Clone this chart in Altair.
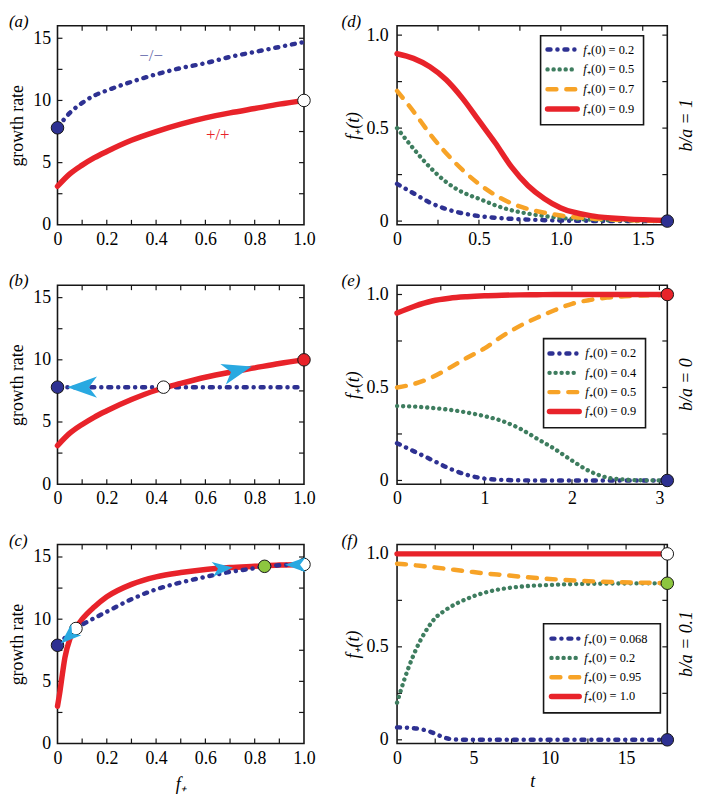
import altair as alt
import pandas as pd

SERIF = "Liberation Serif"
INK = "#161616"
NAVY = "#2e3192"
RED = "#e8232a"
GREEN = "#3e7d5f"
ORANGE = "#f7a327"
CYAN = "#29a9e1"
LIME = "#8dc63f"
WHITE = "#ffffff"
MINUS_INK = "#6a6eae"

# ---------------- left column: growth rate vs f+ ----------------
A_F = [0.0, 0.05, 0.1, 0.15, 0.2, 0.3, 0.4, 0.5, 0.6, 0.7, 0.8, 0.9, 1.0]
A_MINUS = [7.8, 9.0, 9.8, 10.4, 10.8, 11.5, 12.1, 12.6, 13.0, 13.5, 13.9, 14.3, 14.7]
A_PLUS = [3.1, 4.1, 4.8, 5.4, 5.9, 6.8, 7.5, 8.1, 8.6, 9.0, 9.35, 9.7, 10.0]
A_LABEL_F = [0.38, 0.65]
A_LABEL_G = [13.6, 7.2]
A_LABELS = ["\u2212/\u2212", "+/+"]
A_DOT_F = [0.0, 1.0]
A_DOT_G = [7.8, 10.0]

B_F_MINUS = [0.0, 1.0]
B_MINUS = [7.8, 7.8]
B_F = [0.0, 0.05, 0.1, 0.15, 0.2, 0.3, 0.4, 0.5, 0.6, 0.7, 0.8, 0.9, 1.0]
B_PLUS = [3.1, 4.1, 4.8, 5.4, 5.9, 6.8, 7.55, 8.1, 8.6, 9.0, 9.35, 9.7, 10.0]
B_DOT_F = [0.0, 0.43, 1.0]
B_DOT_G = [7.8, 7.8, 10.0]
B_ARROW_F = [0.1, 0.73]
B_ARROW_G = [7.8, 9.15]
B_ARROW_ANGLE = [180, 345]

C_F_PLUS = [0.0, 0.01, 0.02, 0.03, 0.05, 0.075, 0.1, 0.15, 0.2, 0.3, 0.4, 0.5, 0.6, 0.7, 0.8, 0.9, 1.0]
C_PLUS = [3.0, 4.2, 5.6, 6.9, 8.4, 9.3, 10.0, 11.0, 11.8, 12.8, 13.4, 13.75, 14.0, 14.15, 14.25, 14.35, 14.4]
C_F_MINUS = [0.0, 0.075, 0.1, 0.2, 0.3, 0.4, 0.5, 0.6, 0.7, 0.8, 0.84, 0.9, 1.0]
C_MINUS = [7.9, 9.25, 9.55, 10.6, 11.6, 12.4, 12.95, 13.4, 13.8, 14.1, 14.25, 14.33, 14.4]
C_DOT_F = [0.0, 0.075, 0.84, 1.0]
C_DOT_G = [7.9, 9.25, 14.25, 14.4]
C_ARROW_F = [0.045, 0.67, 0.965]
C_ARROW_G = [8.6, 14.08, 14.38]
C_ARROW_ANGLE = [138, 355, 180]

# ---------------- right column: f+(t) vs t ----------------
D_T = [0.0, 0.1, 0.2, 0.3, 0.4, 0.5, 0.6, 0.7, 0.8, 0.9, 1.0, 1.2, 1.4, 1.65]
D_02 = [0.20, 0.15, 0.10, 0.065, 0.042, 0.027, 0.018, 0.012, 0.008, 0.005, 0.003, 0.001, 0.0, 0.0]
D_05 = [0.50, 0.39, 0.29, 0.21, 0.155, 0.12, 0.085, 0.058, 0.04, 0.027, 0.017, 0.007, 0.003, 0.0]
D_07 = [0.70, 0.59, 0.47, 0.365, 0.275, 0.20, 0.14, 0.095, 0.065, 0.045, 0.03, 0.013, 0.005, 0.001]
D_09 = [0.90, 0.875, 0.83, 0.76, 0.66, 0.54, 0.42, 0.29, 0.19, 0.12, 0.07, 0.027, 0.012, 0.003]
D_LABELS = ["0.2", "0.5", "0.7", "0.9"]
D_DOT_T = [1.65]
D_DOT_V = [0.0]

E_T = [0.0, 0.2, 0.4, 0.6, 0.8, 1.0, 1.2, 1.4, 1.6, 1.8, 2.0, 2.2, 2.4, 2.6, 2.8, 3.09]
E_02 = [0.20, 0.155, 0.11, 0.064, 0.03, 0.01, 0.003, 0.001, 0, 0, 0, 0, 0, 0, 0, 0]
E_04 = [0.40, 0.397, 0.39, 0.38, 0.365, 0.346, 0.32, 0.28, 0.225, 0.17, 0.107, 0.05, 0.016, 0.005, 0.001, 0.0]
E_05 = [0.50, 0.52, 0.555, 0.605, 0.66, 0.71, 0.775, 0.83, 0.875, 0.915, 0.95, 0.97, 0.983, 0.99, 0.995, 0.998]
E_09 = [0.90, 0.937, 0.965, 0.98, 0.988, 0.993, 0.996, 0.998, 0.999, 1.0, 1.0, 1.0, 1.0, 1.0, 1.0, 1.0]
E_LABELS = ["0.2", "0.4", "0.5", "0.9"]
E_DOT_T = [3.09, 3.09]
E_DOT_V = [1.0, 0.0]

F_T = [0.0, 0.5, 1.0, 1.5, 2.0, 2.5, 3.0, 3.5, 4.0, 5.0, 6.0, 7.0, 8.0, 10.0, 12.0, 14.0, 17.7]
F_0068 = [0.067, 0.066, 0.063, 0.058, 0.048, 0.033, 0.015, 0.004, 0.001, 0, 0, 0, 0, 0, 0, 0, 0]
F_02 = [0.20, 0.33, 0.44, 0.53, 0.60, 0.655, 0.688, 0.715, 0.737, 0.772, 0.797, 0.813, 0.823, 0.833, 0.838, 0.84, 0.842]
F_095 = [0.947, 0.944, 0.94, 0.936, 0.932, 0.927, 0.922, 0.917, 0.912, 0.902, 0.893, 0.886, 0.878, 0.865, 0.855, 0.849, 0.843]
F_T_RED = [0.0, 17.7]
F_10 = [1.0, 1.0]
F_LABELS = ["0.068", "0.2", "0.95", "1.0"]
F_DOT_T = [17.7, 17.7, 17.7]
F_DOT_V = [1.0, 0.842, 0.0]

# ---------------- axes / ticks ----------------
LX_VALUES = [0, 0.2, 0.4, 0.6, 0.8, 1.0]
LX_TICKS = [0.1, 0.2, 0.3, 0.4, 0.5, 0.6, 0.7, 0.8, 0.9]
LY_VALUES = [0, 5, 10, 15]
LY_TICKS = [2.5, 5, 7.5, 10, 12.5, 15]
RY_VALUES = [0, 0.5, 1.0]
RY_TICKS = [0, 0.25, 0.5, 0.75, 1.0]
D_X_VALUES = [0, 0.5, 1.0, 1.5]
D_X_TICKS = [0.25, 0.5, 0.75, 1.0, 1.25, 1.5]
E_X_VALUES = [0, 1, 2, 3]
E_X_TICKS = [0.5, 1, 1.5, 2, 2.5, 3]
F_X_VALUES = [0, 5, 10, 15]
F_X_TICKS = [2.5, 5, 7.5, 10, 12.5, 15, 17.5]

FMT1 = "datum.value == 0 ? '0' : format(datum.value, '.1f')"
FMT0 = "format(datum.value, 'd')"

ARROW = "M1,0L-1,-0.72L-0.45,0L-1,0.72Z"
S_NAVY = dict(color=NAVY, strokeWidth=4.5, strokeDash=[3, 7, 0.1, 7], strokeCap="round")
S_GREEN = dict(color=GREEN, strokeWidth=4.4, strokeDash=[0.1, 6], strokeCap="round")
S_ORANGE = dict(color=ORANGE, strokeWidth=4.5, strokeDash=[9, 10], strokeCap="round")
S_RED = dict(color=RED, strokeWidth=5.5, strokeCap="round")

ONE = pd.DataFrame({"k": [0]})
WL, WR, H = 249, 273, 201
FS = 18


def xaxis(values, expr, title=None, tp=0):
    kw = dict(values=values, labelExpr=expr, labelPadding=6, labelFlush=False, labelOverlap=False)
    if title:
        kw.update(title=title, titleFontStyle="italic", titlePadding=tp)
    else:
        kw.update(title=None)
    return alt.Axis(**kw)


def yaxis(values, expr, title, italic, lp, tp):
    return alt.Axis(values=values, labelExpr=expr, labelPadding=lp, labelFlush=False,
                    labelOverlap=False, title=title, titlePadding=tp,
                    titleFontStyle="italic" if italic else "normal")


class Panel:
    def __init__(self, W, xdom, ydom, xax, yax):
        self.W, self.H = W, H
        self.sx = alt.Scale(domain=xdom, nice=False, zero=False)
        self.sy = alt.Scale(domain=ydom, nice=False, zero=False)
        self.xax, self.yax = xax, yax
        self.layers = []

    def enc(self):
        return alt.X("x:Q", scale=self.sx, axis=self.xax), alt.Y("y:Q", scale=self.sy, axis=self.yax)

    def ticks(self, xv, yv, L=5):
        X, Y = self.enc()
        dx = pd.DataFrame({"x": xv})
        dy = pd.DataFrame({"y": yv})
        st = dict(color=INK, strokeWidth=1.2)
        self.layers += [
            alt.Chart(dx).mark_rule(**st).encode(x=X, y=alt.value(self.H), y2=alt.value(self.H - L)),
            alt.Chart(dx).mark_rule(**st).encode(x=X, y=alt.value(0), y2=alt.value(L)),
            alt.Chart(dy).mark_rule(**st).encode(y=Y, x=alt.value(0), x2=alt.value(L)),
            alt.Chart(dy).mark_rule(**st).encode(y=Y, x=alt.value(self.W - L), x2=alt.value(self.W)),
        ]

    def line(self, xs, ys, style):
        X, Y = self.enc()
        df = pd.DataFrame({"x": xs, "y": ys})
        self.layers.append(alt.Chart(df).mark_line(interpolate="monotone", **style).encode(x=X, y=Y))

    def text(self, xs, ys, labels, colors, size=17):
        X, Y = self.enc()
        for xv, yv, s, c in zip(xs, ys, labels, colors):
            df = pd.DataFrame({"x": [xv], "y": [yv]})
            self.layers.append(alt.Chart(df).mark_text(font=SERIF, fontSize=size, color=c, align="center",
                                                       baseline="middle").encode(x=X, y=Y, text=alt.value(s)))

    def dots(self, xs, ys, fills, size=160):
        X, Y = self.enc()
        for xv, yv, fc in zip(xs, ys, fills):
            df = pd.DataFrame({"x": [xv], "y": [yv]})
            self.layers.append(alt.Chart(df).mark_point(shape="circle", filled=True, fill=fc, stroke=INK,
                                                        strokeWidth=1, size=size, opacity=1).encode(x=X, y=Y))

    def arrows(self, xs, ys, angles, size):
        X, Y = self.enc()
        for xv, yv, a in zip(xs, ys, angles):
            df = pd.DataFrame({"x": [xv], "y": [yv]})
            self.layers.append(alt.Chart(df).mark_point(shape=ARROW, filled=True, fill=CYAN, strokeWidth=0,
                                                        size=size, angle=a, opacity=1).encode(x=X, y=Y))

    def ptext(self, px, py, s, size=17, italic=True, align="left", baseline="top", angle=0, color="black"):
        kw = dict(font=SERIF, fontSize=size, fontStyle="italic" if italic else "normal",
                  align=align, baseline=baseline, color=color)
        if angle:
            kw["angle"] = angle
        self.layers.append(alt.Chart(ONE).mark_text(**kw).encode(
            x=alt.value(px), y=alt.value(py), text=alt.value(s)))

    def legend(self, labels, styles, box, y0, dy, sx0, sx1, tx):
        self.layers.append(alt.Chart(ONE).mark_rect(fill=WHITE, stroke=INK, strokeWidth=1.6).encode(
            x=alt.value(box[0]), x2=alt.value(box[2]), y=alt.value(box[1]), y2=alt.value(box[3])))
        for i, (lab, st) in enumerate(zip(labels, styles)):
            yy = y0 + i * dy
            self.layers.append(alt.Chart(ONE).mark_rule(**st).encode(
                x=alt.value(sx0), x2=alt.value(sx1), y=alt.value(yy)))
            self.ptext(tx, yy, "f", size=12.5, italic=True, baseline="middle")
            self.ptext(tx + 4, yy, "\u208a(0) = " + lab, size=12.5, italic=False, baseline="middle")

    def chart(self):
        return alt.layer(*self.layers).properties(width=self.W, height=self.H)


def left_panel(label, bottom=False):
    xa = xaxis(LX_VALUES, FMT1, "f\u208a" if bottom else None, 8)
    ya = yaxis(LY_VALUES, FMT0, "growth rate", False, 7, 6)
    p = Panel(WL, [0, 1], [0, 16], xa, ya)
    p.ticks(LX_TICKS, LY_TICKS)
    p.ptext(-49, -12, label)
    return p


def right_panel(label, xdom, xvals, xexpr, xticks, side, bottom=False):
    xa = xaxis(xvals, xexpr, "t" if bottom else None, 5)
    ya = yaxis(RY_VALUES, FMT1, "f\u208a(t)", True, 9, 3)
    p = Panel(WR, xdom, [-0.02, 1.05], xa, ya)
    p.ticks(xticks, RY_TICKS)
    p.ptext(-56, -12, label)
    p.ptext(WR + 20, H / 2, side, size=FS, italic=True, align="center", baseline="middle", angle=270)
    return p


STYLES4 = [S_NAVY, S_GREEN, S_ORANGE, S_RED]

# (a)
pa = left_panel("(a)")
pa.line(A_F, A_MINUS, S_NAVY)
pa.line(A_F, A_PLUS, S_RED)
pa.text(A_LABEL_F, A_LABEL_G, A_LABELS, [MINUS_INK, RED])
pa.dots(A_DOT_F, A_DOT_G, [NAVY, WHITE])

# (b)
pb = left_panel("(b)")
pb.line(B_F_MINUS, B_MINUS, S_NAVY)
pb.line(B_F, B_PLUS, S_RED)
pb.arrows(B_ARROW_F, B_ARROW_G, B_ARROW_ANGLE, 900)
pb.dots(B_DOT_F, B_DOT_G, [NAVY, WHITE, RED])

# (c)
pc = left_panel("(c)", bottom=True)
pc.line(C_F_PLUS, C_PLUS, S_RED)
pc.line(C_F_MINUS, C_MINUS, S_NAVY)
pc.dots(C_DOT_F, C_DOT_G, [NAVY, WHITE, LIME, WHITE])
pc.arrows(C_ARROW_F, C_ARROW_G, C_ARROW_ANGLE, 440)

# (d)
pd_ = right_panel("(d)", [0, 1.65], D_X_VALUES, FMT1, D_X_TICKS, "b/a = 1")
for ys, st in zip([D_02, D_05, D_07, D_09], STYLES4):
    pd_.line(D_T, ys, st)
pd_.dots(D_DOT_T, D_DOT_V, [NAVY])
pd_.legend(D_LABELS, STYLES4, (145, 10, 249, 100), 24, 20, 152, 182, 188)

# (e)
pe = right_panel("(e)", [0, 3.09], E_X_VALUES, FMT0, E_X_TICKS, "b/a = 0")
for ys, st in zip([E_02, E_04, E_05, E_09], STYLES4):
    pe.line(E_T, ys, st)
pe.dots(E_DOT_T, E_DOT_V, [RED, NAVY])
pe.legend(E_LABELS, STYLES4, (148, 54, 251, 144), 69, 19.5, 154, 184, 190)

# (f)
pf = right_panel("(f)", [0, 17.7], F_X_VALUES, FMT0, F_X_TICKS, "b/a = 0.1", bottom=True)
pf.line(F_T, F_0068, S_NAVY)
pf.line(F_T, F_02, S_GREEN)
pf.line(F_T, F_095, S_ORANGE)
pf.line(F_T_RED, F_10, S_RED)
pf.dots(F_DOT_T, F_DOT_V, [WHITE, LIME, NAVY])
pf.legend(F_LABELS, STYLES4, (148, 80, 266, 170), 95, 19.5, 156, 184, 189)

chart = alt.concat(
    pa.chart(), pd_.chart(), pb.chart(), pe.chart(), pc.chart(), pf.chart(),
    columns=2, spacing={"row": 61, "column": 94}, bounds="flush", align="each",
).resolve_scale(x="independent", y="independent").properties(padding=0).configure_view(
    stroke=INK, strokeWidth=1.6
).configure_axis(
    labelFont=SERIF, labelFontSize=FS, labelColor="black", titleFont=SERIF, titleFontSize=FS,
    titleColor="black", titleFontWeight="normal", domain=False, ticks=False, grid=False
)

chart.save("out.html", embed_options={"renderer": "svg", "actions": False})
